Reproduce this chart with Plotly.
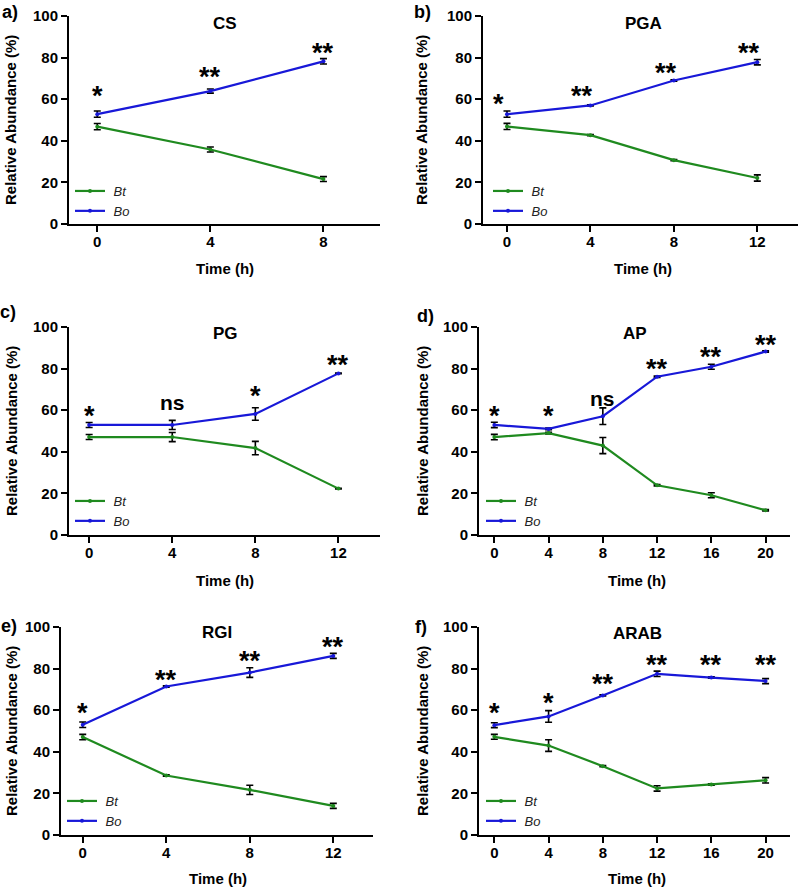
import plotly.graph_objects as go

# ---------------- data ----------------
panel_letters = ["a)", "b)", "c)", "d)", "e)", "f)"]
panel_titles = ["CS", "PGA", "PG", "AP", "RGI", "ARAB"]
series_names = ["Bt", "Bo"]

times_a = [0, 4, 8]
bt_a = [46.8, 35.8, 21.6]
bt_err_a = [1.5, 1.2, 1.2]
bo_a = [52.8, 63.9, 78.2]
bo_err_a = [1.5, 1.0, 1.3]
sig_a = ["*", "**", "**"]
sig_y_a = [64.0, 73.0, 84.5]

times_b = [0, 4, 8, 12]
bt_b = [46.9, 42.7, 30.7, 22.1]
bt_err_b = [1.5, 0.3, 0.3, 1.5]
bo_b = [52.8, 57.0, 69.0, 77.8]
bo_err_b = [1.5, 0.3, 0.3, 1.3]
sig_b = ["*", "**", "**", "**"]
sig_y_b = [60.0, 64.0, 75.0, 84.5]

times_c = [0, 4, 8, 12]
bt_c = [47.1, 47.1, 41.8, 22.3]
bt_err_c = [1.2, 2.2, 3.2, 0.2]
bo_c = [52.9, 52.9, 58.2, 77.7]
bo_err_c = [1.2, 2.2, 3.0, 0.2]
sig_c = ["*", "ns", "*", "**"]
sig_y_c = [59.5, 63.5, 69.0, 84.0]

times_d = [0, 4, 8, 12, 16, 20]
bt_d = [47.1, 49.0, 43.0, 23.9, 19.1, 11.9]
bt_err_d = [1.3, 0.4, 3.9, 0.3, 1.2, 0.3]
bo_d = [52.9, 51.0, 57.1, 76.1, 80.9, 88.2]
bo_err_d = [1.3, 0.4, 4.0, 0.3, 1.2, 0.3]
sig_d = ["*", "*", "ns", "**", "**", "**"]
sig_y_d = [59.5, 59.5, 65.5, 82.4, 87.8, 93.9]

times_e = [0, 4, 8, 12]
bt_e = [47.1, 28.6, 21.7, 14.0]
bt_err_e = [1.3, 0.3, 2.2, 1.2]
bo_e = [53.0, 71.4, 78.1, 86.1]
bo_err_e = [1.3, 0.3, 2.3, 1.2]
sig_e = ["*", "**", "**", "**"]
sig_y_e = [61.3, 76.8, 86.0, 92.8]

times_f = [0, 4, 8, 12, 16, 20]
bt_f = [47.2, 43.0, 33.1, 22.4, 24.3, 26.3]
bt_err_f = [1.2, 2.8, 0.3, 1.3, 0.3, 1.3]
bo_f = [52.8, 57.0, 67.1, 77.5, 75.7, 74.0]
bo_err_f = [1.2, 2.8, 0.3, 1.3, 0.3, 1.2]
sig_f = ["*", "*", "**", "**", "**", "**"]
sig_y_f = [61.3, 65.7, 74.8, 84.3, 84.3, 84.3]

x_ticks_3 = [0, 4, 8]
x_ticks_4 = [0, 4, 8, 12]
x_ticks_6 = [0, 4, 8, 12, 16, 20]
y_ticks = [0, 20, 40, 60, 80, 100]

# ---------------- layout geometry (pixels) ----------------
W, H = 800, 888
FONT = "Arial, Liberation Sans, sans-serif"
GREEN = "#1f8a1f"
BLUE = "#1818d8"

panels = [
    dict(t=times_a, bt=bt_a, bte=bt_err_a, bo=bo_a, boe=bo_err_a, sig=sig_a, sy=sig_y_a,
         ticks=x_ticks_3, xr=[-1.0, 10.0], px=(69, 380), py=(16, 224),
         lab=(10, 12), title=(225, 24), ytl=11, xtl=(225, 268), leg=(70, 176), sxs=0),
    dict(t=times_b, bt=bt_b, bte=bt_err_b, bo=bo_b, boe=bo_err_b, sig=sig_b, sy=sig_y_b,
         ticks=x_ticks_4, xr=[-1.15, 13.95], px=(483, 798), py=(16, 224),
         lab=(422, 12), title=(643, 24), ytl=422, xtl=(643, 268), leg=(488, 176), sxs=-8),
    dict(t=times_c, bt=bt_c, bte=bt_err_c, bo=bo_c, boe=bo_err_c, sig=sig_c, sy=sig_y_c,
         ticks=x_ticks_4, xr=[-0.97, 14.0], px=(69, 380), py=(327, 535),
         lab=(8, 312), title=(225, 333), ytl=11, xtl=(225, 580), leg=(70, 486), sxs=0),
    dict(t=times_d, bt=bt_d, bte=bt_err_d, bo=bo_d, boe=bo_err_d, sig=sig_d, sy=sig_y_d,
         ticks=x_ticks_6, xr=[-1.13, 21.8], px=(479, 790), py=(327, 535),
         lab=(425, 316), title=(635, 333), ytl=422, xtl=(637, 580), leg=(481, 486), sxs=0),
    dict(t=times_e, bt=bt_e, bte=bt_err_e, bo=bo_e, boe=bo_err_e, sig=sig_e, sy=sig_y_e,
         ticks=x_ticks_4, xr=[-1.04, 13.9], px=(61, 373), py=(627, 835),
         lab=(9, 626), title=(217, 632), ytl=11, xtl=(218, 878), leg=(62, 786), sxs=0),
    dict(t=times_f, bt=bt_f, bte=bt_err_f, bo=bo_f, boe=bo_err_f, sig=sig_f, sy=sig_y_f,
         ticks=x_ticks_6, xr=[-1.13, 21.8], px=(479, 790), py=(627, 835),
         lab=(421, 627), title=(637, 633), ytl=422, xtl=(637, 878), leg=(481, 786), sxs=0),
]


def fx(p):
    return p / W


def fy(p):
    return 1 - p / H


fig = go.Figure()
annotations = []
layout = {}

for i, p in enumerate(panels):
    n = i + 1
    xa = "x" if n == 1 else f"x{n}"
    ya = "y" if n == 1 else f"y{n}"
    leg = "legend" if n == 1 else f"legend{n}"

    for name, vals, errs, col in ((series_names[0], p["bt"], p["bte"], GREEN),
                                  (series_names[1], p["bo"], p["boe"], BLUE)):
        fig.add_trace(go.Scatter(
            x=p["t"], y=vals, name="\u00a0" + name, mode="lines+markers",
            line=dict(color=col, width=2.2),
            marker=dict(color=col, size=4),
            error_y=dict(type="data", array=errs, visible=True, color="black",
                         thickness=1.6, width=3.5),
            xaxis=xa, yaxis=ya, legend=leg, showlegend=True,
        ))

    xkey = "xaxis" if n == 1 else f"xaxis{n}"
    ykey = "yaxis" if n == 1 else f"yaxis{n}"
    layout[xkey] = dict(
        domain=[fx(p["px"][0]), fx(p["px"][1])], anchor=ya, range=p["xr"],
        tickmode="array", tickvals=p["ticks"], ticktext=[str(v) for v in p["ticks"]],
        showline=True, linecolor="black", linewidth=2, ticks="outside", ticklen=6,
        tickwidth=2, tickcolor="black", showgrid=False, zeroline=False,
        automargin=False, ticklabelstandoff=-3,
        tickfont=dict(family=FONT, size=15, color="black", weight="bold"),
    )
    layout[ykey] = dict(
        domain=[fy(p["py"][1]), fy(p["py"][0])], anchor=xa, range=[0, 100],
        tickmode="array", tickvals=y_ticks, ticktext=[str(v) for v in y_ticks],
        showline=True, linecolor="black", linewidth=2, ticks="outside", ticklen=6,
        tickwidth=2, tickcolor="black", showgrid=False, zeroline=False,
        automargin=False,
        tickfont=dict(family=FONT, size=15, color="black", weight="bold"),
    )
    layout[leg] = dict(
        x=fx(p["leg"][0]), y=fy(p["leg"][1]), xanchor="left", yanchor="top",
        bgcolor="rgba(0,0,0,0)", borderwidth=0, tracegroupgap=0, itemwidth=30,
        font=dict(family=FONT, size=13, color="#222", style="italic"),
    )

    annotations.append(dict(text=panel_letters[i], x=fx(p["lab"][0]), y=fy(p["lab"][1]),
                            xref="paper", yref="paper", showarrow=False,
                            xanchor="center", yanchor="middle",
                            font=dict(family=FONT, size=18, color="black", weight="bold")))
    annotations.append(dict(text=panel_titles[i], x=fx(p["title"][0]), y=fy(p["title"][1]),
                            xref="paper", yref="paper", showarrow=False,
                            xanchor="center", yanchor="middle",
                            font=dict(family=FONT, size=17, color="black", weight="bold")))
    annotations.append(dict(text="Relative Abundance (%)", x=fx(p["ytl"]),
                            y=fy((p["py"][0] + p["py"][1]) / 2), textangle=-90,
                            xref="paper", yref="paper", showarrow=False,
                            xanchor="center", yanchor="middle",
                            font=dict(family=FONT, size=15, color="black", weight="bold")))
    annotations.append(dict(text="Time (h)", x=fx(p["xtl"][0]), y=fy(p["xtl"][1]),
                            xref="paper", yref="paper", showarrow=False,
                            xanchor="center", yanchor="middle",
                            font=dict(family=FONT, size=15, color="black", weight="bold")))
    for tx, s, sy in zip(p["t"], p["sig"], p["sy"]):
        is_star = "*" in s
        annotations.append(dict(text=s, x=tx, y=sy, xref=xa, yref=ya, showarrow=False,
                                xanchor="center", yanchor="middle",
                                xshift=p["sxs"], yshift=(-5 if is_star else 0),
                                font=dict(family=FONT, size=(27 if is_star else 21),
                                          color="black", weight="bold")))

fig.update_layout(
    width=W, height=H, margin=dict(l=0, r=0, t=0, b=0, pad=0, autoexpand=False),
    paper_bgcolor="white", plot_bgcolor="white", hovermode=False,
    annotations=annotations, **layout,
)

fig.write_html("out.html", config={"displayModeBar": False, "staticPlot": True},
               post_script="document.body.style.margin='0px';document.body.style.overflow='hidden';")
